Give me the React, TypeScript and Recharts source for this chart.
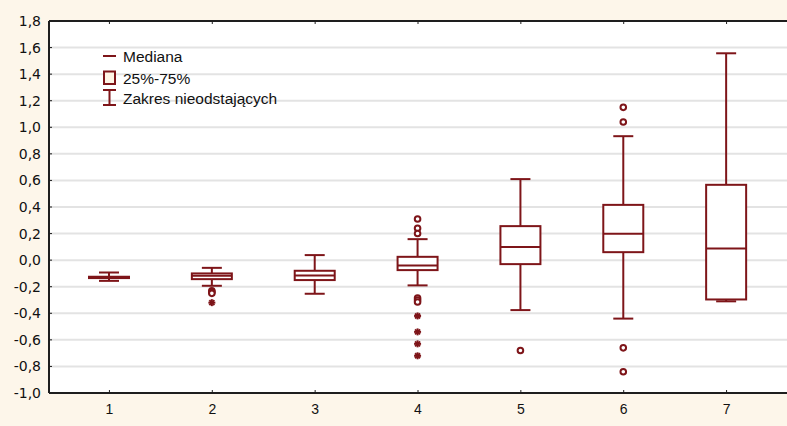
import React from 'react';
import { ComposedChart, Bar, XAxis, YAxis, CartesianGrid } from 'recharts';

// box plot values per group
const categories = ['1', '2', '3', '4', '5', '6', '7'];
const medians = [-0.13, -0.118, -0.115, -0.04, 0.098, 0.198, 0.088];
const q1 = [-0.135, -0.143, -0.15, -0.075, -0.03, 0.06, -0.296];
const q3 = [-0.125, -0.1, -0.08, 0.025, 0.256, 0.416, 0.567];
const whiskerLow = [-0.156, -0.193, -0.253, -0.19, -0.376, -0.44, -0.31];
const whiskerHigh = [-0.093, -0.058, 0.038, 0.158, 0.61, 0.933, 1.557];
const outliers = [
  [],
  [-0.23, -0.24, -0.25],
  [],
  [0.31, 0.24, 0.2, -0.285, -0.3, -0.315],
  [-0.68],
  [1.15, 1.04, -0.66, -0.84],
  [],
];
const extremes = [[], [-0.32], [], [-0.42, -0.54, -0.63, -0.72], [], [], []];
const yTicks = [-1, -0.8, -0.6, -0.4, -0.2, 0, 0.2, 0.4, 0.6, 0.8, 1, 1.2, 1.4, 1.6, 1.8];

const COLOR = '#7e1519';
const AXIS = '#1e1e1e';
const FONT = '"Liberation Sans", Arial, sans-serif';
const TICK_FONT = '"DejaVu Sans", sans-serif';

const data = categories.map((name, i) => {
  const all = [whiskerLow[i], whiskerHigh[i], ...outliers[i], ...extremes[i]];
  return {
    name,
    median: medians[i],
    q1: q1[i],
    q3: q3[i],
    lo: whiskerLow[i],
    hi: whiskerHigh[i],
    outliers: outliers[i],
    extremes: extremes[i],
    span: [Math.min(...all), Math.max(...all)],
  };
});

const fmt = (v: number) => v.toFixed(1).replace('.', ',');

// draws the whole box from the bar rectangle the library computed for [min, max]
const BoxShape = (props: any) => {
  const { x, y, width, height, payload } = props;
  if (!payload) return null;
  const [min, max] = payload.span;
  const top = Math.min(y, y + height);
  const bottom = Math.max(y, y + height);
  const py = (v: number) => bottom - ((bottom - top) * (v - min)) / (max - min);
  const cx = x + width / 2;
  const cap = width / 4;
  return (
    <g>
      <line x1={cx} x2={cx} y1={py(payload.hi)} y2={py(payload.q3)} stroke={COLOR} strokeWidth={2} />
      <line x1={cx} x2={cx} y1={py(payload.q1)} y2={py(payload.lo)} stroke={COLOR} strokeWidth={2} />
      <line x1={cx - cap} x2={cx + cap} y1={py(payload.hi)} y2={py(payload.hi)} stroke={COLOR} strokeWidth={2} />
      <line x1={cx - cap} x2={cx + cap} y1={py(payload.lo)} y2={py(payload.lo)} stroke={COLOR} strokeWidth={2} />
      <rect
        x={x}
        y={py(payload.q3)}
        width={width}
        height={py(payload.q1) - py(payload.q3)}
        fill="#fff"
        stroke={COLOR}
        strokeWidth={2}
      />
      <line x1={x} x2={x + width} y1={py(payload.median)} y2={py(payload.median)} stroke={COLOR} strokeWidth={2} />
      {payload.outliers.map((v: number, k: number) => (
        <circle key={'o' + k} cx={cx} cy={py(v)} r={2.8} fill="#fff" stroke={COLOR} strokeWidth={2} />
      ))}
      {payload.extremes.map((v: number, k: number) => {
        const cy = py(v);
        return (
          <g key={'e' + k} stroke={COLOR} strokeWidth={2}>
            <line x1={cx - 3.5} x2={cx + 3.5} y1={cy} y2={cy} />
            <line x1={cx} x2={cx} y1={cy - 3.5} y2={cy + 3.5} />
            <line x1={cx - 2.5} x2={cx + 2.5} y1={cy - 2.5} y2={cy + 2.5} />
            <line x1={cx - 2.5} x2={cx + 2.5} y1={cy + 2.5} y2={cy - 2.5} />
          </g>
        );
      })}
    </g>
  );
};

const YTick = ({ x, y, payload }: any) => (
  <text x={x} y={y} dy="0.36em" textAnchor="end" fontSize={14} fontFamily={TICK_FONT} fill="#111">
    {fmt(payload.value)}
  </text>
);

const XTick = ({ x, y, payload }: any) => (
  <text x={x} y={y} dy="0.72em" textAnchor="middle" fontSize={14} fontFamily={FONT} fill="#111">
    {payload.value}
  </text>
);

const Legend = () => (
  <svg width={787} height={426} style={{ position: 'absolute', left: 0, top: 0, pointerEvents: 'none' }}>
    <g fontFamily={FONT} fontSize={15.5} fill="#111">
      <line x1={103} x2={116} y1={56} y2={56} stroke={COLOR} strokeWidth={2} />
      <text x={123} y={62}>Mediana</text>
      <rect x={104} y={71.5} width={11} height={12.5} fill="#fff5e6" stroke={COLOR} strokeWidth={2} />
      <text x={123} y={83.5}>25%-75%</text>
      <line x1={103} x2={116} y1={90} y2={90} stroke={COLOR} strokeWidth={2} />
      <line x1={109.5} x2={109.5} y1={90} y2={105} stroke={COLOR} strokeWidth={2} />
      <line x1={103} x2={116} y1={105} y2={105} stroke={COLOR} strokeWidth={2} />
      <text x={123} y={103.5}>Zakres nieodstających</text>
    </g>
  </svg>
);

export default function App() {
  return (
    <div style={{ position: 'absolute', left: 0, top: 0, width: 787, height: 426, background: '#fdf6ea' }}>
      <ComposedChart width={787} height={426} data={data} margin={{ top: 0, right: 0, bottom: 0, left: 0 }}>
        <CartesianGrid vertical={false} fill="#fff" stroke="#e3e3e3" strokeWidth={2} />
        <XAxis
          dataKey="name"
          height={33}
          padding={{ left: 9, right: 9 }}
          tickSize={-3}
          tickMargin={14}
          interval={0}
          axisLine={{ stroke: AXIS, strokeWidth: 2 }}
          tickLine={{ stroke: AXIS }}
          tick={XTick}
        />
        <XAxis
          xAxisId="top"
          orientation="top"
          dataKey="name"
          height={21}
          padding={{ left: 9, right: 9 }}
          tickSize={-3}
          interval={0}
          axisLine={{ stroke: AXIS, strokeWidth: 2 }}
          tickLine={{ stroke: AXIS }}
          tick={() => <g />}
        />
        <YAxis
          type="number"
          domain={[-1, 1.8]}
          ticks={yTicks}
          interval={0}
          width={49}
          tickSize={-3}
          tickMargin={11}
          allowDataOverflow
          axisLine={{ stroke: AXIS, strokeWidth: 2 }}
          tickLine={{ stroke: AXIS }}
          tick={YTick}
        />
        <Bar dataKey="span" barSize={40} shape={BoxShape} isAnimationActive={false} />
      </ComposedChart>
      <Legend />
    </div>
  );
}
